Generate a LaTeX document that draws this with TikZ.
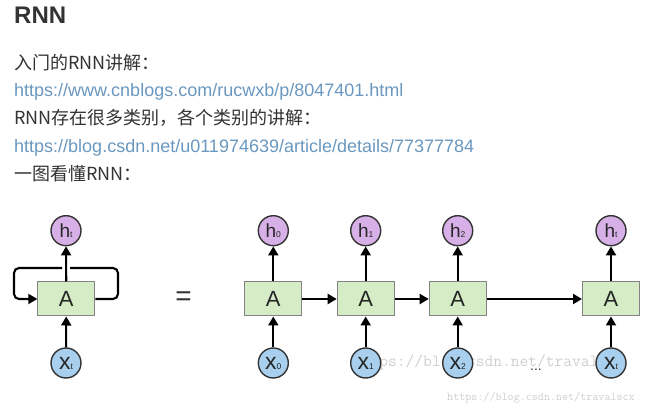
\documentclass[tikz,border=0pt]{standalone}
\usepackage{fontspec}
\setmainfont{Liberation Sans}
\newfontfamily\cjk{Noto Sans CJK SC}
\usetikzlibrary{arrows.meta}
\definecolor{txt}{RGB}{51,51,51}
\definecolor{urlc}{RGB}{106,152,192}
\definecolor{boxfill}{RGB}{214,236,198}
\definecolor{boxdraw}{RGB}{130,130,130}
\definecolor{hfill}{RGB}{216,176,232}
\definecolor{xfill}{RGB}{168,208,238}
\definecolor{wmc}{RGB}{208,208,208}
\newcommand{\lbsub}[1]{{\fontsize{8.5}{8.5}\selectfont #1}}
\begin{document}
\begin{tikzpicture}[x=1pt,y=-1pt,
  cell/.style={draw=boxdraw, line width=1pt, fill=boxfill, minimum width=57pt, minimum height=34pt, inner sep=0pt, font=\fontsize{22}{22}\selectfont, text=black!85},
  hnode/.style={circle, draw=black!80, line width=1.4pt, fill=hfill, minimum size=30pt, inner sep=0pt, font=\fontsize{19}{19}\selectfont, text=black!85},
  xnode/.style={hnode, fill=xfill, font=\fontsize{23}{23}\selectfont},
  arr/.style={line width=2.1pt, -{Triangle[length=9pt,width=10pt]}},
  ln/.style={line width=2.1pt},
  textline/.style={anchor=base west, inner sep=0pt, font=\fontsize{18}{18}\selectfont},
  cjkline/.style={textline, text=txt, font=\cjk\fontsize{18}{18}\selectfont},
  urlline/.style={textline, text=urlc},
  wmark/.style={anchor=base west, inner sep=0pt, text=wmc},
]
\fill[white] (0,0) rectangle (650,411);
\useasboundingbox (0,0) rectangle (650,411);

% header text
\node[textline, text=txt, font=\fontsize{24}{24}\selectfont\bfseries] (title) at (14,23.5) {RNN};
\node[cjkline] (l1) at (14,70) {入门的RNN讲解：};
\node[urlline] (l2) at (14,97) {https://www.cnblogs.com/rucwxb/p/8047401.html};
\node[cjkline] (l3) at (14,124.5) {RNN存在很多类别，各个类别的讲解：};
\node[urlline] (l4) at (14,152.7) {https://blog.csdn.net/u011974639/article/details/77377784};
\node[cjkline] (l5) at (14,181) {一图看懂RNN：};

% watermarks
\node[wmark, font=\ttfamily\fontsize{17}{17}\selectfont] (wm1) at (353,366) {https://blog.csdn.net/travalscx};
\node[wmark, font=\ttfamily\fontsize{11.75}{11.75}\selectfont] (wm2) at (447,400) {https://blog.csdn.net/travalscx};

% folded RNN
\node[cell] (A) at (66.3,299) {A};
\node[hnode] (ht) at (66,230.7) {h\lbsub{t}};
\node[xnode] (xt) at (66,363) {x\lbsub{t}};
\draw[arr] (xt) -- (A);
\draw[arr] (A) -- (ht);
\coordinate (gr) at (70,268);
\coordinate (gl) at (62,268);
\draw[ln, rounded corners=5pt] (A.east) -- (118,299) -- (118,268) -- (gr);
\draw[arr, rounded corners=5pt] (gl) -- (14,268) -- (14,299) -- (A.west);

\node[font=\fontsize{28}{28}\selectfont, text=txt] (eq) at (183.5,299) {=};

% unrolled RNN
\node[cell] (A0) at (273.3,299) {A};
\node[cell] (A1) at (365.7,299) {A};
\node[cell] (A2) at (457.7,299) {A};
\node[cell] (A3) at (611,299) {A};

\node[hnode] (h0) at (273.3,230.7) {h\lbsub{0}};
\node[hnode] (h1) at (365.7,230.7) {h\lbsub{1}};
\node[hnode] (h2) at (457.7,230.7) {h\lbsub{2}};
\node[hnode] (h3) at (611,230.7) {h\lbsub{t}};

\node[xnode] (x0) at (273.3,363) {x\lbsub{0}};
\node[xnode] (x1) at (365.7,363) {x\lbsub{1}};
\node[xnode] (x2) at (457.7,363) {x\lbsub{2}};
\node[xnode] (x3) at (611,363) {x\lbsub{t}};

\foreach \i in {0,1,2,3}{
  \draw[arr] (x\i) -- (A\i);
  \draw[arr] (A\i) -- (h\i);
}
\draw[arr] (A0) -- (A1);
\draw[arr] (A1) -- (A2);
\draw[arr] (A2) -- (A3);

\node[anchor=base, inner sep=0pt, font=\fontsize{14}{14}\selectfont, text=txt] (dots) at (536,370) {...};
\end{tikzpicture}
\end{document}
